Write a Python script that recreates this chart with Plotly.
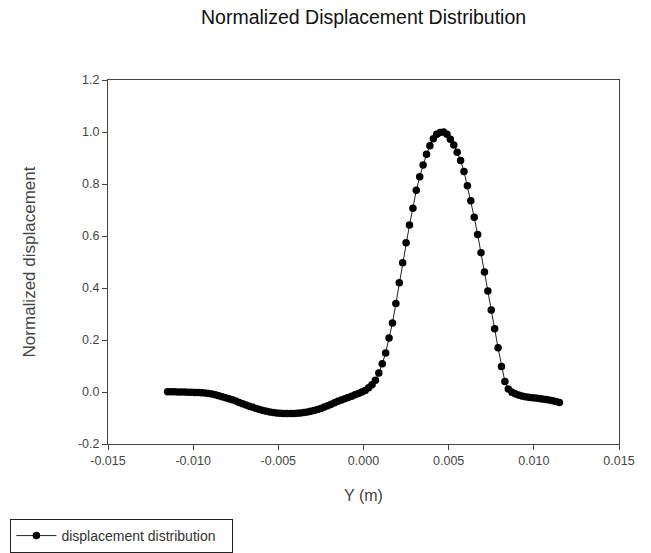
import plotly.graph_objects as go

# Y position (m)
y_pos = [
    -0.0115, -0.0113, -0.0111, -0.0109, -0.0107, -0.0105, -0.0103, -0.0101,
    -0.0099, -0.0097, -0.0095, -0.0093, -0.0091, -0.0089, -0.0087, -0.0085,
    -0.0083, -0.0081, -0.0079, -0.0077, -0.0075, -0.0073, -0.0071, -0.0069,
    -0.0067, -0.0065, -0.0063, -0.0061, -0.0059, -0.0057, -0.0055, -0.0053,
    -0.0051, -0.0049, -0.0047, -0.0045, -0.0043, -0.0041, -0.0039, -0.0037,
    -0.0035, -0.0033, -0.0031, -0.0029, -0.0027, -0.0025, -0.0023, -0.0021,
    -0.0019, -0.0017, -0.0015, -0.0013, -0.0011, -0.0009, -0.0007, -0.0005,
    -0.0003, -0.0001, 0.0001, 0.0003, 0.0005, 0.0007, 0.0009, 0.0011,
    0.0013, 0.0015, 0.0017, 0.0019, 0.0021, 0.0023, 0.0025, 0.0027,
    0.0029, 0.0031, 0.0033, 0.0035, 0.0037, 0.0039, 0.0041, 0.0043,
    0.0045, 0.0047, 0.0049, 0.0051, 0.0053, 0.0055, 0.0057, 0.0059,
    0.0061, 0.0063, 0.0065, 0.0067, 0.0069, 0.0071, 0.0073, 0.0075,
    0.0077, 0.0079, 0.0081, 0.0083, 0.0085, 0.0087, 0.0089, 0.0091,
    0.0093, 0.0095, 0.0097, 0.0099, 0.0101, 0.0103, 0.0105, 0.0107,
    0.0109, 0.0111, 0.0113, 0.0115,
]

# Normalized displacement
displacement = [
    0.001, 0.001, 0.001, 0.000, 0.000, 0.000, -0.001, -0.001,
    -0.002, -0.002, -0.003, -0.004, -0.006, -0.008, -0.011, -0.014,
    -0.018, -0.022, -0.026, -0.030, -0.035, -0.040, -0.045, -0.050,
    -0.055, -0.059, -0.063, -0.067, -0.071, -0.074, -0.077, -0.079,
    -0.081, -0.082, -0.083, -0.083, -0.083, -0.083, -0.082, -0.081,
    -0.079, -0.077, -0.074, -0.071, -0.067, -0.063, -0.058, -0.053,
    -0.047, -0.041, -0.036, -0.031, -0.026, -0.021, -0.016, -0.011,
    -0.006, 0.000, 0.006, 0.016, 0.028, 0.045, 0.073, 0.109,
    0.150, 0.208, 0.265, 0.340, 0.420, 0.497, 0.574, 0.642,
    0.707, 0.776, 0.828, 0.873, 0.914, 0.947, 0.974, 0.991,
    0.998, 1.000, 0.991, 0.972, 0.950, 0.922, 0.890, 0.848,
    0.793, 0.736, 0.672, 0.606, 0.536, 0.462, 0.388, 0.315,
    0.243, 0.170, 0.098, 0.040, 0.012, 0.000, -0.007, -0.012,
    -0.015, -0.018, -0.020, -0.022, -0.023, -0.025, -0.027, -0.029,
    -0.031, -0.034, -0.037, -0.040,
]

x_tickvals = [-0.015, -0.010, -0.005, 0.000, 0.005, 0.010, 0.015]
x_ticktext = ["-0.015", "-0.010", "-0.005", "0.000", "0.005", "0.010", "0.015"]
y_tickvals = [-0.2, 0.0, 0.2, 0.4, 0.6, 0.8, 1.0, 1.2]
y_ticktext = ["-0.2", "0.0", "0.2", "0.4", "0.6", "0.8", "1.0", "1.2"]

FONT = "Liberation Sans, Arial, sans-serif"

fig = go.Figure()
fig.add_trace(go.Scatter(
    x=y_pos, y=displacement, mode="lines+markers",
    name="displacement distribution",
    line=dict(color="#222222", width=1),
    marker=dict(color="black", size=7.5, symbol="circle"),
))

fig.update_layout(
    width=651, height=553,
    margin=dict(l=108, r=32, t=80, b=109, autoexpand=False),
    paper_bgcolor="white", plot_bgcolor="white",
    font=dict(family=FONT, color="#333333"),
    title=dict(text="Normalized Displacement Distribution",
               x=0.5585, xanchor="center", y=0.969, yanchor="middle",
               font=dict(family=FONT, size=19.5, color="#111111")),
    showlegend=True,
    legend=dict(x=-0.191, xanchor="left", y=-0.206, yanchor="top",
                orientation="h", entrywidth=166, itemwidth=40,
                bordercolor="#222222", borderwidth=1,
                bgcolor="white",
                font=dict(family=FONT, size=14, color="#333333")),
)
fig.update_xaxes(
    range=[-0.015, 0.015], tickvals=x_tickvals, ticktext=x_ticktext,
    showgrid=False, zeroline=False, showline=True, linecolor="#444444",
    linewidth=1, mirror=True, ticks="outside", ticklen=5, tickcolor="#444444",
    tickfont=dict(family=FONT, size=12.5, color="#444444"),
    title=dict(text="Y (m)", standoff=22,
               font=dict(family=FONT, size=16, color="#444444")),
)
fig.update_yaxes(
    range=[-0.2, 1.2], tickvals=y_tickvals, ticktext=y_ticktext,
    showgrid=False, zeroline=False, showline=True, linecolor="#444444",
    linewidth=1, mirror=True, ticks="outside", ticklen=5, tickcolor="#444444",
    tickfont=dict(family=FONT, size=12.5, color="#444444"),
    title=dict(text="Normalized displacement", standoff=38,
               font=dict(family=FONT, size=17, color="#444444")),
)

fig.write_html("out.html")
